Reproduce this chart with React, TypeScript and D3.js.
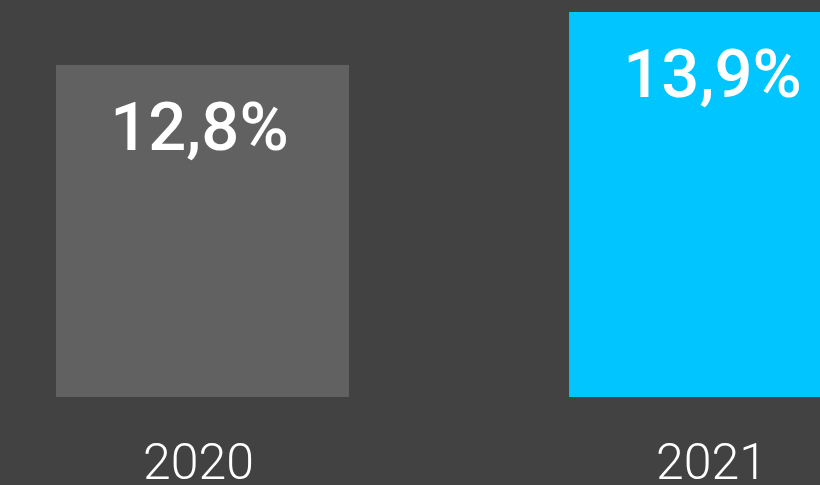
import { useEffect, useRef } from "react";
import * as d3 from "d3";

const years = ["2020", "2021"];
const shares = [12.8, 13.9];
const valueLabels = ["12,8%", "13,9%"];
const barColors = ["#616161", "#00C5FF"];
const Y_FLOOR = 5.9;

const W = 820;
const H = 485;

export default function App() {
  const svgRef = useRef<SVGSVGElement | null>(null);

  useEffect(() => {
    document.body.style.margin = "0";
    const svg = d3.select(svgRef.current);
    svg.selectAll("*").remove();

    svg.append("rect").attr("width", W).attr("height", H).attr("fill", "#424242");

    const x = d3.scaleBand<string>()
      .domain(years)
      .range([56, 862])
      .paddingInner(0.429)
      .paddingOuter(0);

    const y = d3.scaleLinear().domain([Y_FLOOR, 13.9]).range([397, 12]);

    const rows = years.map((yr, i) => ({ yr, v: shares[i], label: valueLabels[i], color: barColors[i] }));

    svg.selectAll("rect.bar")
      .data(rows)
      .enter()
      .append("rect")
      .attr("class", "bar")
      .attr("x", d => x(d.yr)!)
      .attr("y", d => y(d.v))
      .attr("width", x.bandwidth())
      .attr("height", d => y(Y_FLOOR) - y(d.v))
      .attr("fill", d => d.color);

    // value labels inside the bars
    svg.selectAll("text.val")
      .data(rows)
      .enter()
      .append("text")
      .attr("class", "val")
      .attr("x", d => x(d.yr)! + x.bandwidth() / 2 - 3)
      .attr("y", d => y(d.v) + 85)
      .attr("text-anchor", "middle")
      .attr("fill", "#ffffff")
      .style("font-family", "Roboto, 'Liberation Sans', sans-serif")
      .style("font-weight", "500")
      .style("font-size", "67px")
      .text(d => d.label);

    // year labels
    svg.selectAll("text.yr")
      .data(rows)
      .enter()
      .append("text")
      .attr("class", "yr")
      .attr("x", d => x(d.yr)! + x.bandwidth() / 2 - 4)
      .attr("y", 479)
      .attr("text-anchor", "middle")
      .attr("fill", "#ffffff")
      .style("font-family", "Roboto, 'Liberation Sans', sans-serif")
      .style("font-weight", "300")
      .style("font-size", "50px")
      .text(d => d.yr);
  }, []);

  return <svg ref={svgRef} width={W} height={H} style={{ display: "block" }} />;
}
